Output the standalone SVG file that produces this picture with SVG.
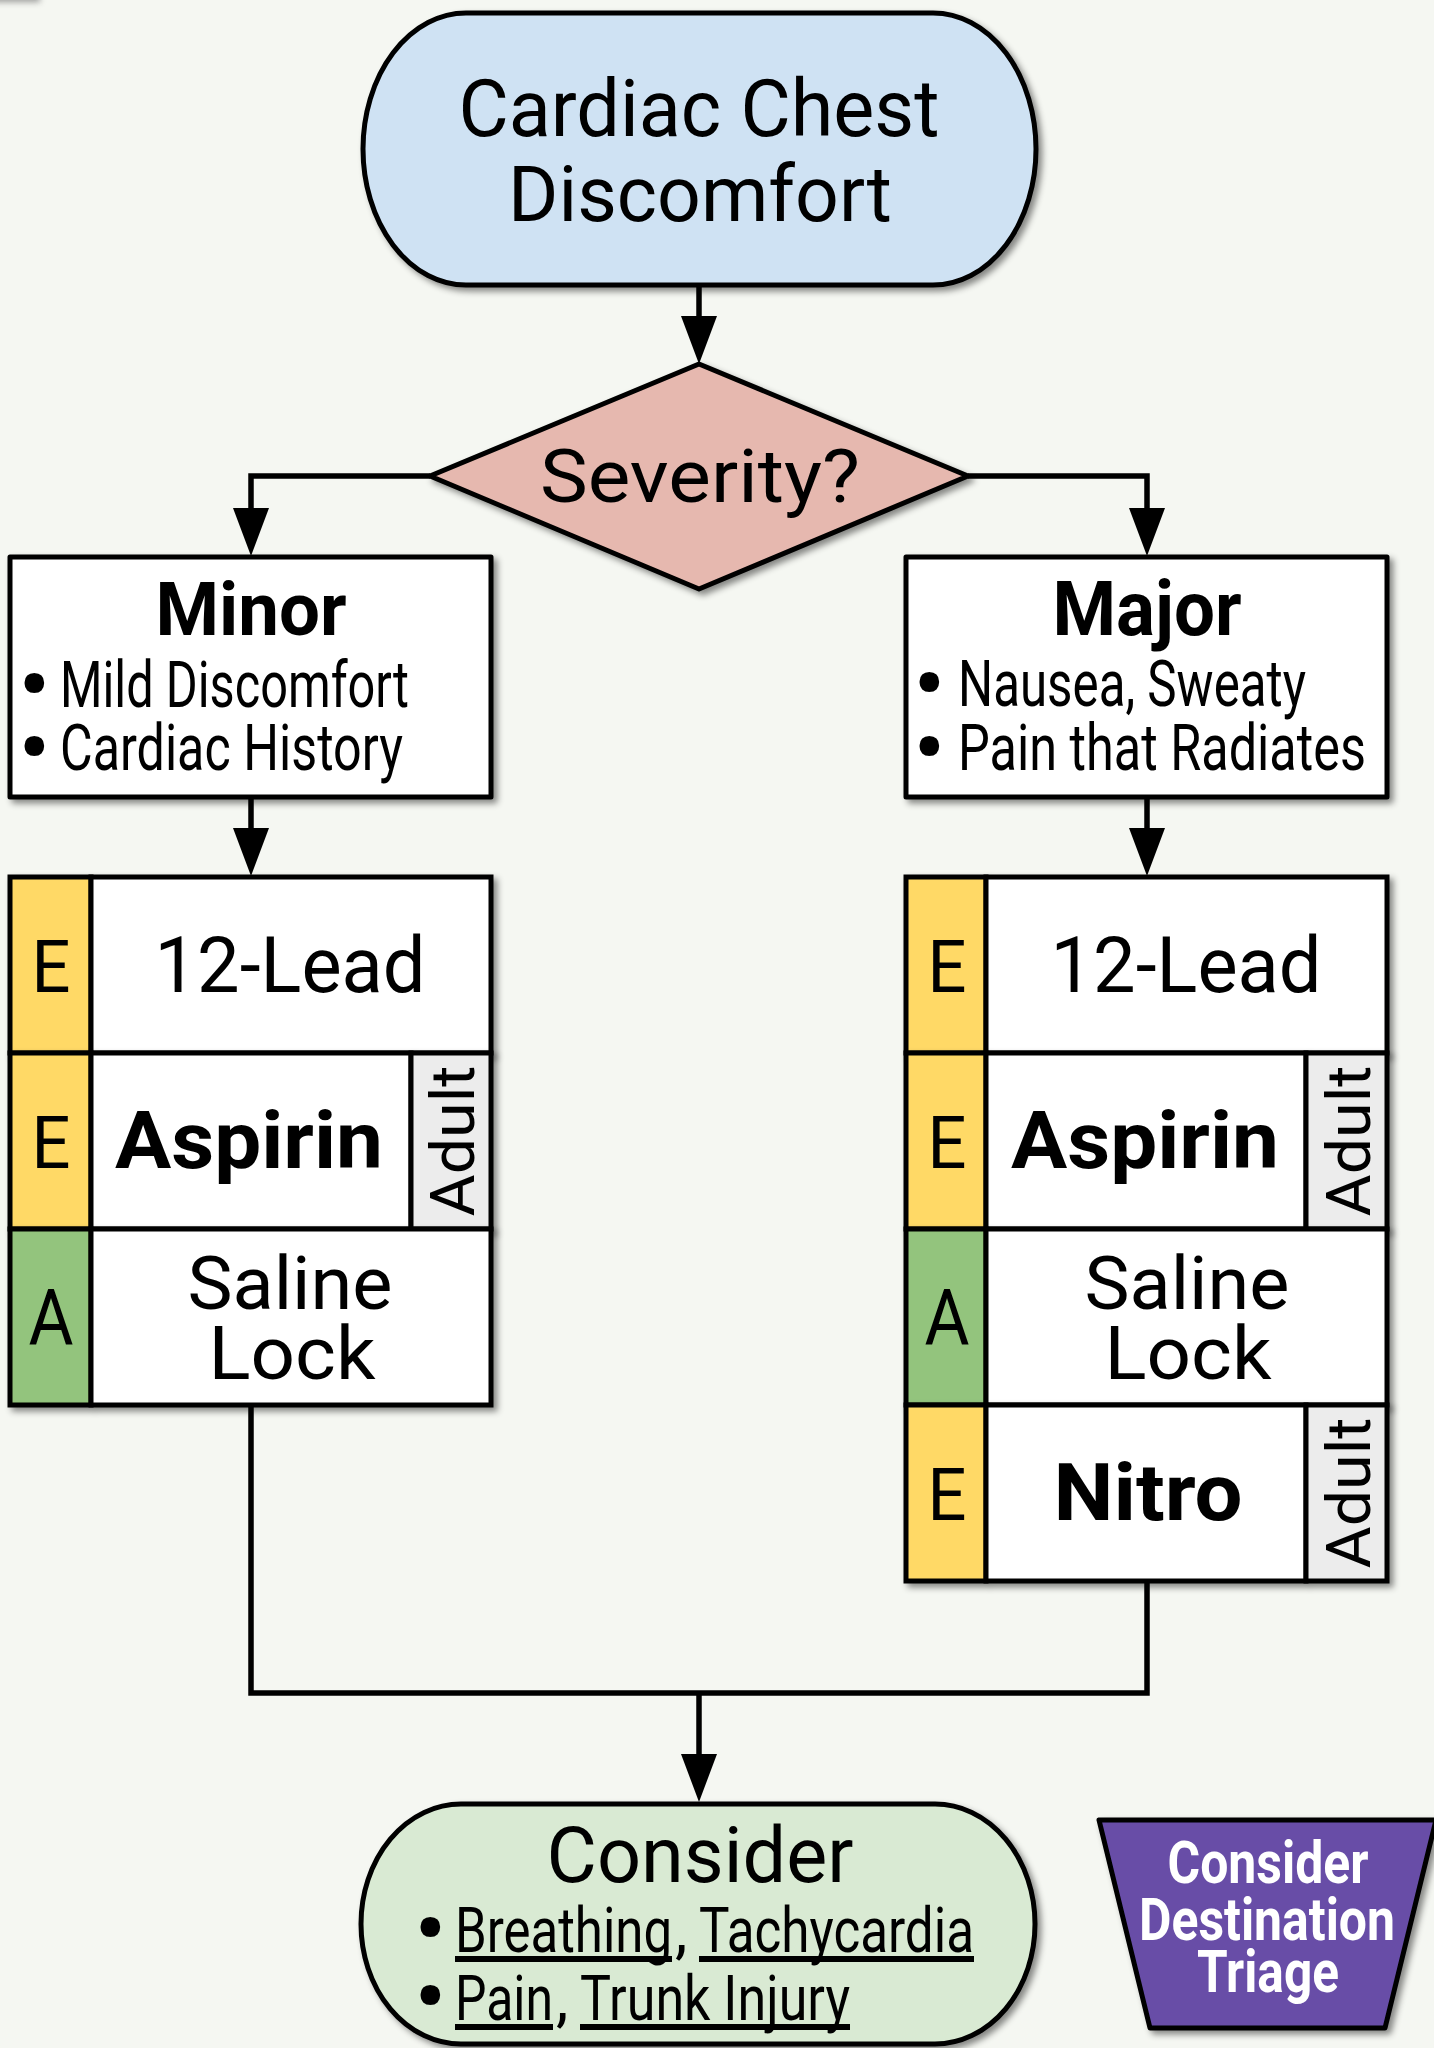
<svg xmlns="http://www.w3.org/2000/svg" width="1434" height="2048" viewBox="0 0 1434 2048">
  <defs>
    <style>
      .t { font-family: Roboto, "Liberation Sans", sans-serif; fill: #000; }
      .b { font-weight: 700; }
      .w { fill: #fff; }
      .dot { font-family: Roboto, "Liberation Sans", sans-serif; font-weight: 700; font-size: 84px; text-anchor: middle; }
      .node { stroke: #000; stroke-width: 5; stroke-linejoin: round; }
      .cell { stroke: #000; stroke-width: 5; }
      .edge { fill: none; stroke: #000; stroke-width: 5.5; }
      .yel { fill: #ffd966; }
      .grn { fill: #93c47d; }
      .wht { fill: #fff; }
      .gry { fill: #ececec; }
    </style>
    <filter id="shadow" x="-10%" y="-10%" width="130%" height="130%">
      <feDropShadow dx="4" dy="4" stdDeviation="3" flood-color="#000" flood-opacity="0.45"/>
    </filter>
    <filter id="soft" x="-50%" y="-50%" width="200%" height="300%">
      <feGaussianBlur stdDeviation="3"/>
    </filter>
    <marker id="arrow" markerUnits="userSpaceOnUse" markerWidth="48" markerHeight="36" refX="0" refY="18" orient="auto">
      <path d="M0,0 L48,18 L0,36 Z" fill="#000"/>
    </marker>
  </defs>

  <!-- background -->
  <rect x="0" y="0" width="1434" height="2048" fill="#f5f7f2"/>
  <!-- shadow edge of an element above the sheet -->
  <rect x="-120" y="-24" width="160" height="26" fill="#777" filter="url(#soft)" opacity="0.7"/>

  <!-- connectors -->
  <g id="connectors">
    <path class="edge" d="M699,285 V316" marker-end="url(#arrow)"/>
    <path class="edge" d="M430,476 H251 V508" marker-end="url(#arrow)"/>
    <path class="edge" d="M968,476 H1147 V508" marker-end="url(#arrow)"/>
    <path class="edge" d="M251,797 V828" marker-end="url(#arrow)"/>
    <path class="edge" d="M1147,797 V828" marker-end="url(#arrow)"/>
    <path class="edge" d="M251,1405 V1693 H1147 V1581"/>
    <path class="edge" d="M699,1693 V1754" marker-end="url(#arrow)"/>
  </g>

  <!-- start terminal -->
  <g id="start" filter="url(#shadow)">
    <path class="node" fill="#cfe2f3" d="M466,13 H933 A103,136 0 0 1 933,285 H466 A103,136 0 0 1 466,13 Z"/>
    <text class="t" x="699" y="136" font-size="79" text-anchor="middle" textLength="481" lengthAdjust="spacingAndGlyphs">Cardiac Chest</text>
    <text class="t" x="700" y="221" font-size="78" text-anchor="middle" textLength="384" lengthAdjust="spacingAndGlyphs">Discomfort</text>
  </g>

  <!-- decision -->
  <g id="severity" filter="url(#shadow)">
    <polygon class="node" fill="#e6b8af" points="699,364 968,476 699,589 430,476"/>
    <text class="t" x="700" y="502" font-size="75" text-anchor="middle" textLength="320" lengthAdjust="spacingAndGlyphs">Severity?</text>
  </g>

  <!-- minor branch -->
  <g id="minor" filter="url(#shadow)">
    <rect class="node" fill="#fff" x="10" y="557" width="481" height="240"/>
    <text class="t b" x="251" y="635" font-size="75" text-anchor="middle" textLength="191" lengthAdjust="spacingAndGlyphs">Minor</text>
    <text class="dot" x="34" y="714">•</text>
    <text class="t" x="60" y="707" font-size="65" textLength="349" lengthAdjust="spacingAndGlyphs">Mild Discomfort</text>
    <text class="dot" x="34" y="777">•</text>
    <text class="t" x="60" y="770" font-size="65" textLength="343" lengthAdjust="spacingAndGlyphs">Cardiac History</text>
  </g>

  <!-- major branch -->
  <g id="major" filter="url(#shadow)">
    <rect class="node" fill="#fff" x="906" y="557" width="481" height="240"/>
    <text class="t b" x="1147" y="635" font-size="76" text-anchor="middle" textLength="189" lengthAdjust="spacingAndGlyphs">Major</text>
    <text class="dot" x="929" y="713">•</text>
    <text class="t" x="958" y="706" font-size="65" textLength="348" lengthAdjust="spacingAndGlyphs">Nausea, Sweaty</text>
    <text class="dot" x="929" y="777">•</text>
    <text class="t" x="958" y="770" font-size="65" textLength="408" lengthAdjust="spacingAndGlyphs">Pain that Radiates</text>
  </g>

  <!-- minor interventions -->
  <g id="minor-12lead" filter="url(#shadow)">
    <rect class="cell yel" x="10" y="877" width="81" height="176"/>
    <rect class="cell wht" x="91" y="877" width="400" height="176"/>
    <text class="t" x="51" y="992" font-size="73" text-anchor="middle" textLength="39" lengthAdjust="spacingAndGlyphs">E</text>
    <text class="t" x="290" y="992" font-size="78" text-anchor="middle" textLength="271" lengthAdjust="spacingAndGlyphs">12-Lead</text>
  </g>
  <g id="minor-aspirin" filter="url(#shadow)">
    <rect class="cell yel" x="10" y="1053" width="81" height="176"/>
    <rect class="cell wht" x="91" y="1053" width="320" height="176"/>
    <rect class="cell gry" x="411" y="1053" width="80" height="176"/>
    <text class="t" x="51" y="1168" font-size="73" text-anchor="middle" textLength="39" lengthAdjust="spacingAndGlyphs">E</text>
    <text class="t b" x="249" y="1168" font-size="80" text-anchor="middle" textLength="268" lengthAdjust="spacingAndGlyphs">Aspirin</text>
    <text class="t" transform="translate(474,1141) rotate(-90)" font-size="62" text-anchor="middle" textLength="151" lengthAdjust="spacingAndGlyphs">Adult</text>
  </g>
  <g id="minor-saline" filter="url(#shadow)">
    <rect class="cell grn" x="10" y="1229" width="81" height="176"/>
    <rect class="cell wht" x="91" y="1229" width="400" height="176"/>
    <text class="t" x="51" y="1345" font-size="78" text-anchor="middle" textLength="45" lengthAdjust="spacingAndGlyphs">A</text>
    <text class="t" x="290" y="1309" font-size="75" text-anchor="middle" textLength="205" lengthAdjust="spacingAndGlyphs">Saline</text>
    <text class="t" x="292" y="1379" font-size="75" text-anchor="middle" textLength="167" lengthAdjust="spacingAndGlyphs">Lock</text>
  </g>

  <!-- major interventions -->
  <g id="major-12lead" filter="url(#shadow)">
    <rect class="cell yel" x="906" y="877" width="80" height="176"/>
    <rect class="cell wht" x="986" y="877" width="401" height="176"/>
    <text class="t" x="947" y="992" font-size="73" text-anchor="middle" textLength="39" lengthAdjust="spacingAndGlyphs">E</text>
    <text class="t" x="1186" y="992" font-size="78" text-anchor="middle" textLength="271" lengthAdjust="spacingAndGlyphs">12-Lead</text>
  </g>
  <g id="major-aspirin" filter="url(#shadow)">
    <rect class="cell yel" x="906" y="1053" width="80" height="176"/>
    <rect class="cell wht" x="986" y="1053" width="320" height="176"/>
    <rect class="cell gry" x="1306" y="1053" width="81" height="176"/>
    <text class="t" x="947" y="1168" font-size="73" text-anchor="middle" textLength="39" lengthAdjust="spacingAndGlyphs">E</text>
    <text class="t b" x="1145" y="1168" font-size="80" text-anchor="middle" textLength="268" lengthAdjust="spacingAndGlyphs">Aspirin</text>
    <text class="t" transform="translate(1370,1141) rotate(-90)" font-size="62" text-anchor="middle" textLength="151" lengthAdjust="spacingAndGlyphs">Adult</text>
  </g>
  <g id="major-saline" filter="url(#shadow)">
    <rect class="cell grn" x="906" y="1229" width="80" height="176"/>
    <rect class="cell wht" x="986" y="1229" width="401" height="176"/>
    <text class="t" x="947" y="1345" font-size="78" text-anchor="middle" textLength="45" lengthAdjust="spacingAndGlyphs">A</text>
    <text class="t" x="1187" y="1309" font-size="75" text-anchor="middle" textLength="205" lengthAdjust="spacingAndGlyphs">Saline</text>
    <text class="t" x="1188" y="1379" font-size="75" text-anchor="middle" textLength="167" lengthAdjust="spacingAndGlyphs">Lock</text>
  </g>
  <g id="major-nitro" filter="url(#shadow)">
    <rect class="cell yel" x="906" y="1405" width="80" height="176"/>
    <rect class="cell wht" x="986" y="1405" width="320" height="176"/>
    <rect class="cell gry" x="1306" y="1405" width="81" height="176"/>
    <text class="t" x="947" y="1520" font-size="73" text-anchor="middle" textLength="39" lengthAdjust="spacingAndGlyphs">E</text>
    <text class="t b" x="1148" y="1520" font-size="80" text-anchor="middle" textLength="189" lengthAdjust="spacingAndGlyphs">Nitro</text>
    <text class="t" transform="translate(1370,1493) rotate(-90)" font-size="62" text-anchor="middle" textLength="151" lengthAdjust="spacingAndGlyphs">Adult</text>
  </g>

  <!-- closing terminal -->
  <g id="consider" filter="url(#shadow)">
    <path class="node" fill="#d9ead3" d="M461,1804 H935 A100,120 0 0 1 935,2044 H461 A100,120 0 0 1 461,1804 Z"/>
    <text class="t" x="700" y="1882" font-size="77" text-anchor="middle" textLength="307" lengthAdjust="spacingAndGlyphs">Consider</text>
    <text class="dot" x="430" y="1958">•</text>
    <text class="t" x="455" y="1952" font-size="63" textLength="217" lengthAdjust="spacingAndGlyphs">Breathing</text>
    <text class="t" x="675" y="1952" font-size="63">,</text>
    <text class="t" x="699" y="1952" font-size="63" textLength="275" lengthAdjust="spacingAndGlyphs">Tachycardia</text>
    <rect x="455" y="1956" width="217" height="6"/>
    <rect x="699" y="1956" width="275" height="6"/>
    <text class="dot" x="430" y="2026">•</text>
    <text class="t" x="455" y="2020" font-size="63" textLength="98" lengthAdjust="spacingAndGlyphs">Pain</text>
    <text class="t" x="556" y="2020" font-size="63">,</text>
    <text class="t" x="580" y="2020" font-size="63" textLength="270" lengthAdjust="spacingAndGlyphs">Trunk Injury</text>
    <rect x="455" y="2024" width="98" height="6"/>
    <rect x="580" y="2024" width="270" height="6"/>
  </g>

  <!-- destination note -->
  <g id="destination" filter="url(#shadow)">
    <polygon class="node" fill="#674ea7" points="1099,1820 1436,1820 1385,2028 1150,2028"/>
    <text class="t b w" x="1268" y="1883" font-size="60" text-anchor="middle" textLength="201" lengthAdjust="spacingAndGlyphs">Consider</text>
    <text class="t b w" x="1267" y="1940" font-size="60" text-anchor="middle" textLength="256" lengthAdjust="spacingAndGlyphs">Destination</text>
    <text class="t b w" x="1268" y="1992" font-size="60" text-anchor="middle" textLength="142" lengthAdjust="spacingAndGlyphs">Triage</text>
  </g>
</svg>
